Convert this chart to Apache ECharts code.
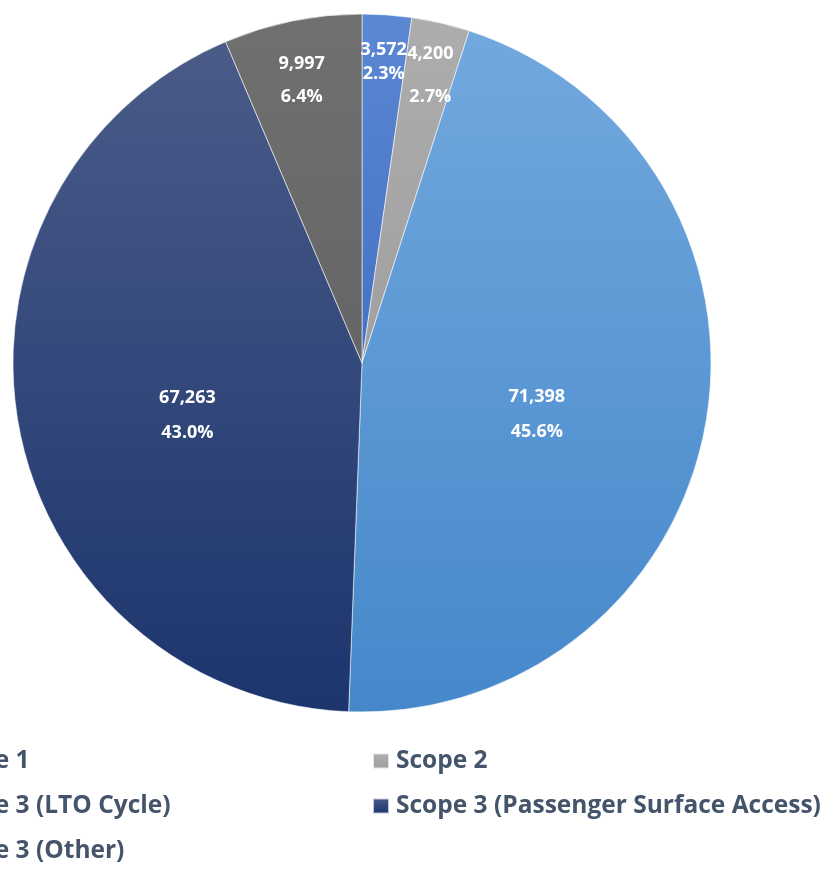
<!DOCTYPE html>
<html lang="en">
<head>
    <meta charset="UTF-8">
    <title>Emissions by scope</title>
    <script type="text/javascript" src="https://cdn.jsdelivr.net/npm/echarts@6/dist/echarts.min.js"></script>
    <style>
        html, body { margin: 0; padding: 0; background: #fff; }
    </style>
</head>
<body>
<div id="main" style="width:822px;height:869px;"></div>
<script>
    const names = ['Scope 1', 'Scope 2', 'Scope 3 (LTO Cycle)', 'Scope 3 (Passenger Surface Access)', 'Scope 3 (Other)'];
    const values = [3572, 4200, 71398, 67263, 9997];
    // top / bottom colour of each slice gradient
    const topColors = ['#5b87d3', '#adadad', '#72a8de', '#4a5b88', '#707070'];
    const bottomColors = ['#4472c4', '#a0a0a0', '#4588ca', '#1c356d', '#656565'];
    const bigSlices = ['Scope 3 (LTO Cycle)', 'Scope 3 (Passenger Surface Access)'];
    // per-label line spacing and downward nudge (px)
    const labelLineHeight = { 'Scope 1': 24, 'Scope 2': 43, 'Scope 3 (Other)': 33 };
    const labelShift = { 'Scope 1': 0, 'Scope 2': 7, 'Scope 3 (Other)': 14,
        'Scope 3 (LTO Cycle)': 20, 'Scope 3 (Passenger Surface Access)': 20 };

    const FONT = 'Open Sans';
    const legendSize = 24.5;

    let myChart = echarts.init(document.getElementById('main'));

    const grad = i => new echarts.graphic.LinearGradient(0, 0, 0, 1, [
        { offset: 0, color: topColors[i] },
        { offset: 1, color: bottomColors[i] }
    ]);

    const fmt = p => '{s| }\n{t|' + p.value.toLocaleString('en-US') + '}\n{t|' + p.percent.toFixed(1) + '%}';

    const itemLabel = (n, show) => ({
        show: show,
        rich: {
            s: { fontSize: 1, lineHeight: Math.max(1, labelShift[n] * 2) },
            t: { lineHeight: labelLineHeight[n] || 35 }
        }
    });

    const labelBase = {
        color: '#fff',
        fontFamily: FONT,
        fontWeight: 'bold',
        fontSize: 18,
        formatter: fmt,
        rich: {
            s: { fontSize: 1, lineHeight: 1 },
            t: { color: '#fff', fontFamily: FONT, fontWeight: 'bold', fontSize: 18, lineHeight: 35 }
        }
    };

    let mainData = names.map((n, i) => ({
        name: n,
        value: values[i],
        itemStyle: { color: grad(i) },
        label: itemLabel(n, bigSlices.includes(n))
    }));

    let labelData = names.map((n, i) => ({
        name: n,
        value: values[i],
        label: itemLabel(n, !bigSlices.includes(n))
    }));

    // left column is clipped by the page edge: its longest text ends at x=170
    let ctx = document.createElement('canvas').getContext('2d');
    ctx.font = 'bold ' + legendSize + 'px "' + FONT + '"';
    let leftLegendX = Math.round(170 - ctx.measureText('Scope 3 (LTO Cycle)').width - 2 - 5 - 16);

    let legendBase = {
        orient: 'vertical',
        icon: 'rect',
        padding: 0,
        itemWidth: 16,
        itemHeight: 15,
        itemGap: 19,
        selectedMode: false,
        textStyle: {
            color: '#44546a',
            fontFamily: FONT,
            fontWeight: 'bold',
            fontSize: legendSize,
            lineHeight: 26,
            padding: [0, 0, 0, 2]
        }
    };

    let option = {
        backgroundColor: '#fff',
        animation: false,
        legend: [
            Object.assign({}, legendBase, {
                left: leftLegendX,
                top: 748,
                data: ['Scope 1', 'Scope 3 (LTO Cycle)', 'Scope 3 (Other)']
            }),
            Object.assign({}, legendBase, {
                left: 372,
                top: 748,
                data: ['Scope 2', 'Scope 3 (Passenger Surface Access)']
            })
        ],
        series: [
            {
                type: 'pie',
                center: [362, 363],
                radius: 349,
                startAngle: 90,
                clockwise: true,
                percentPrecision: 1,
                silent: true,
                itemStyle: {
                    borderColor: 'rgba(255,255,255,0.7)',
                    borderWidth: 0.8
                },
                label: Object.assign({}, labelBase, { position: 'inside' }),
                labelLine: { show: false },
                data: mainData
            },
            {
                // label-only ring for the thin slices near the rim
                type: 'pie',
                center: [362, 363],
                radius: [250, 349],
                startAngle: 90,
                clockwise: true,
                percentPrecision: 1,
                silent: true,
                itemStyle: { color: 'rgba(0,0,0,0)' },
                label: Object.assign({}, labelBase, { position: 'inside' }),
                labelLine: { show: false },
                data: labelData
            }
        ]
    };

    myChart.setOption(option);
</script>
</body>
</html>
